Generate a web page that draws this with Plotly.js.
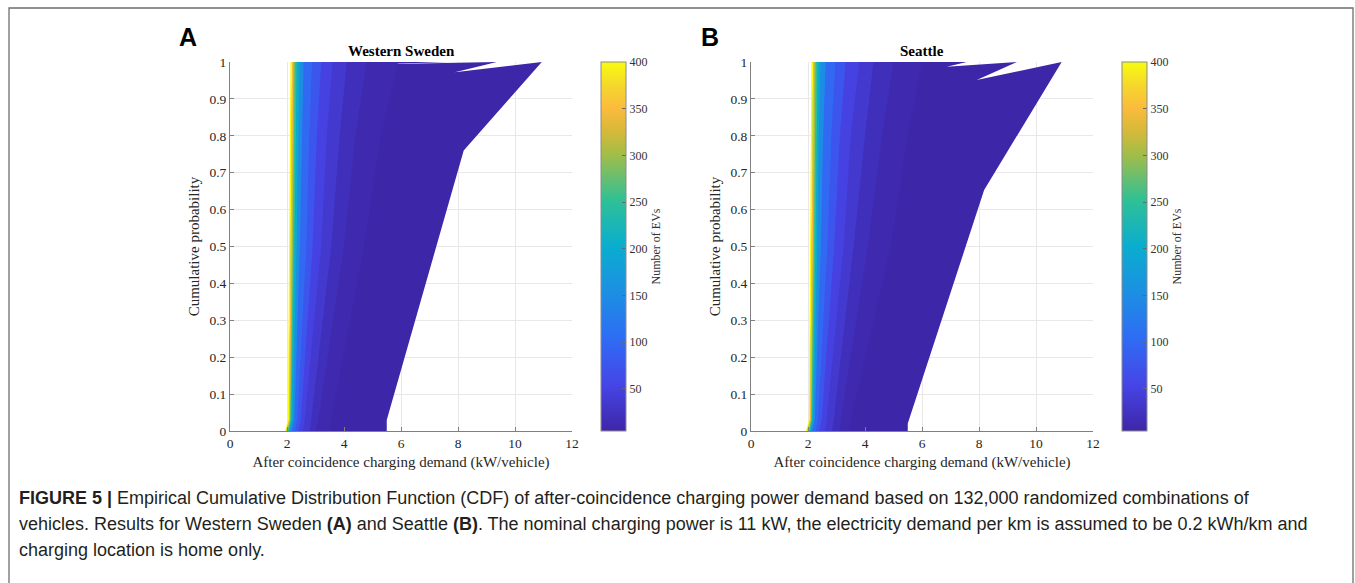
<!DOCTYPE html>
<html><head><meta charset="utf-8">
<script src="https://cdn.plot.ly/plotly-3.0.1.min.js"></script>
<style>html,body{margin:0;padding:0;background:#fff}#chart{width:1355px;height:583px}</style>
</head><body><div id="chart"></div>
<script>
// ---------- data ----------
const probGrid = [0, 0.03, 0.5, 0.8, 1];               // cumulative probability
const evLevels = [10, 20, 35, 50, 75, 100, 150, 200, 250, 300, 350, 400];
const outerLevel = 5;

// Western Sweden: demand (kW/vehicle) at probGrid for each level
const swedenCurves = [
  [3.50, 3.55, 4.70, 5.30, 5.90],
  [3.00, 3.10, 4.00, 4.40, 4.80],
  [2.80, 2.85, 3.55, 3.85, 4.10],
  [2.55, 2.62, 3.20, 3.40, 3.60],
  [2.40, 2.48, 2.90, 3.05, 3.20],
  [2.28, 2.36, 2.68, 2.78, 2.88],
  [2.16, 2.26, 2.45, 2.52, 2.58],
  [2.10, 2.20, 2.34, 2.39, 2.44],
  [2.06, 2.15, 2.26, 2.30, 2.34],
  [2.03, 2.12, 2.21, 2.24, 2.27],
  [2.00, 2.10, 2.17, 2.20, 2.22],
  [1.97, 2.07, 2.13, 2.15, 2.18]
];
const swedenMin = [1.93, 2.03, 2.08, 2.10, 2.12];
const swedenOuterX = [5.50, 5.50, 8.20, 10.94, 7.89, 9.36, 5.15, 7.65];
const swedenOuterP = [0, 0.03, 0.76, 1, 0.972, 1, 0.994, 1];

// Seattle
const seattleCurves = [
  [3.45, 3.50, 4.90, 5.50, 6.00],
  [3.10, 3.15, 4.10, 4.60, 5.00],
  [2.85, 2.90, 3.60, 4.00, 4.30],
  [2.60, 2.65, 3.25, 3.50, 3.80],
  [2.40, 2.48, 2.92, 3.12, 3.32],
  [2.28, 2.35, 2.68, 2.82, 2.96],
  [2.15, 2.24, 2.45, 2.53, 2.62],
  [2.10, 2.19, 2.33, 2.38, 2.44],
  [2.06, 2.15, 2.26, 2.30, 2.34],
  [2.03, 2.12, 2.21, 2.24, 2.27],
  [2.00, 2.10, 2.17, 2.20, 2.22],
  [1.97, 2.07, 2.13, 2.15, 2.18]
];
const seattleMin = [1.93, 2.03, 2.08, 2.10, 2.12];
const seattleOuterX = [5.50, 5.50, 8.18, 10.90, 7.92, 9.33, 6.87, 7.57];
const seattleOuterP = [0, 0.02, 0.653, 1, 0.951, 1, 0.987, 1];

const colorbarTicks = [50, 100, 150, 200, 250, 300, 350, 400];
const xTicks = [0, 2, 4, 6, 8, 10, 12];
const yTicks = [0, 0.1, 0.2, 0.3, 0.4, 0.5, 0.6, 0.7, 0.8, 0.9, 1];

// ---------- styling ----------
const cMin = 5, cMax = 400;
const parula = [
  [0.000, '#3e26a8'], [0.125, '#4645e6'], [0.250, '#2f6cf4'],
  [0.375, '#1c8fe3'], [0.500, '#0aadcf'], [0.625, '#2fc096'],
  [0.750, '#a3bd48'], [0.8125, '#d6b93a'], [0.875, '#fbbb3c'],
  [0.9375, '#f5d82c'], [1.000, '#f9fb0e']
];
function hex2rgb(h){return [1,3,5].map(i=>parseInt(h.substr(i,2),16));}
function colorAt(v){
  let t = Math.min(1, Math.max(0, (v - cMin) / (cMax - cMin)));
  for (let i = 1; i < parula.length; i++) {
    if (t <= parula[i][0]) {
      const a = parula[i-1], b = parula[i];
      const f = (t - a[0]) / (b[0] - a[0]);
      const ca = hex2rgb(a[1]), cb = hex2rgb(b[1]);
      const c = ca.map((x, k) => Math.round(x + (cb[k] - x) * f));
      return 'rgb(' + c.join(',') + ')';
    }
  }
  return parula[parula.length-1][1];
}
const W = 1355, H = 583;
const px = x => x / W, py = y => 1 - y / H;
const serif = 'Liberation Serif, Times New Roman, serif';
const sans = 'Liberation Sans, Arial, sans-serif';

function poly(xs, ys, col, xa, ya){
  return {type:'scatter', mode:'lines', x:xs, y:ys, fill:'toself', fillcolor:col,
          line:{width:0, color:col}, xaxis:xa, yaxis:ya, hoverinfo:'skip', showlegend:false};
}
function panel(curves, xMin, outerX, outerP, xa, ya, cbx){
  const tr = [];
  const revP = probGrid.slice().reverse();
  const innerRevX = curves[curves.length - 1].slice().reverse();  // hidden under the top band
  const minRevX = xMin.slice().reverse();
  tr.push(poly(outerX.concat(innerRevX), outerP.concat(revP), colorAt(outerLevel), xa, ya));
  evLevels.forEach((n, i) => {
    const last = i === evLevels.length - 1;
    const leftX = last ? minRevX : innerRevX;
    tr.push(poly(curves[i].concat(leftX), probGrid.concat(revP), colorAt(n), xa, ya));
  });
  tr.push({type:'heatmap', x:[-3,-2], y:[0.5], z:[[cMin, cMax]], xaxis:xa, yaxis:ya,
    zmin:cMin, zmax:cMax, colorscale:parula, hoverinfo:'skip', showscale:true,
    colorbar:{x:px(cbx), xanchor:'left', xref:'paper', y:py(431), yanchor:'bottom', yref:'paper',
      len:(431-62)/H, lenmode:'fraction', thickness:25, thicknessmode:'pixels',
      xpad:0, ypad:0, outlinecolor:'#8c8c8c', outlinewidth:1,
      tickvals:colorbarTicks, ticks:'inside', ticklen:4, tickcolor:'#666',
      tickfont:{family:serif, size:12, color:'#333'},
      title:{text:'Number of EVs', side:'right', font:{family:serif, size:12, color:'#333'}}}});
  return tr;
}

const data = []
  .concat(panel(swedenCurves, swedenMin, swedenOuterX, swedenOuterP, 'x', 'y', 601))
  .concat(panel(seattleCurves, seattleMin, seattleOuterX, seattleOuterP, 'x2', 'y2', 1122));

function xax(d0, d1, anchor){
  return {domain:[px(d0), px(d1)], range:[0,12], tickvals:xTicks, anchor:anchor,
    showgrid:true, gridcolor:'#e8e8e8', gridwidth:1, zeroline:false,
    showline:true, linecolor:'#808080', linewidth:1, ticks:'inside', ticklen:4, tickcolor:'#808080',
    tickfont:{family:serif, size:13.5, color:'#262626'},
    title:{text:'After coincidence charging demand (kW/vehicle)', font:{family:serif, size:15, color:'#262626'}, standoff:6}};
}
function yax(anchor){
  return {domain:[py(431), py(62)], range:[0,1], tickvals:yTicks, anchor:anchor,
    showgrid:true, gridcolor:'#e8e8e8', gridwidth:1, zeroline:false,
    showline:true, linecolor:'#808080', linewidth:1, ticks:'inside', ticklen:4, tickcolor:'#808080',
    tickfont:{family:serif, size:13.5, color:'#262626'},
    title:{text:'Cumulative probability', font:{family:serif, size:15, color:'#262626'}, standoff:6}};
}

const capFont = {family:sans, size:18, color:'#231f20'};
const ann = [
  {text:'<b>A</b>', x:px(188), y:py(37), font:{family:sans, size:25, color:'#000'}},
  {text:'<b>B</b>', x:px(710), y:py(37), font:{family:sans, size:25, color:'#000'}},
  {text:'<b>Western Sweden</b>', x:px(401), y:py(51), font:{family:serif, size:15, color:'#000'}},
  {text:'<b>Seattle</b>', x:px(922), y:py(51), font:{family:serif, size:15, color:'#000'}},
  {text:'<b>FIGURE 5 |</b> Empirical Cumulative Distribution Function (CDF) of after-coincidence charging power demand based on 132,000 randomized combinations of',
   x:px(17), y:py(498), xanchor:'left', font:capFont},
  {text:'vehicles. Results for Western Sweden <b>(A)</b> and Seattle <b>(B)</b>. The nominal charging power is 11 kW, the electricity demand per km is assumed to be 0.2 kWh/km and',
   x:px(17), y:py(524), xanchor:'left', font:capFont},
  {text:'charging location is home only.',
   x:px(17), y:py(550), xanchor:'left', font:capFont}
].map(a => Object.assign({xref:'paper', yref:'paper', showarrow:false, xanchor:'center', yanchor:'middle'}, a));

const layout = {
  width:W, height:H, margin:{l:0, r:0, t:0, b:0},
  paper_bgcolor:'#fff', plot_bgcolor:'#fff', showlegend:false,
  xaxis:xax(230, 572, 'y'), yaxis:yax('x'),
  xaxis2:xax(751, 1093, 'y2'), yaxis2:yax('x2'),
  annotations:ann,
  shapes:[{type:'rect', xref:'paper', yref:'paper', x0:px(9), x1:px(1353), y0:-0.1, y1:py(8),
    line:{color:'#6e6e6e', width:1.3}, layer:'above'}]
};
Plotly.newPlot('chart', data, layout, {staticPlot:true, displayModeBar:false});
</script></body></html>
